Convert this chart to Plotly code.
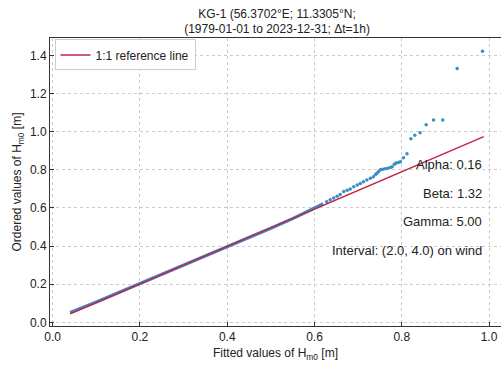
import plotly.graph_objects as go

# Dense body of the Q-Q points (fitted vs ordered Hm0)
body_x = [0.04, 0.07, 0.10, 0.15, 0.20, 0.25, 0.30, 0.35, 0.40, 0.45, 0.50, 0.55, 0.58, 0.60, 0.62]
body_y = [0.052, 0.078, 0.107, 0.155, 0.203, 0.251, 0.299, 0.347, 0.396, 0.445, 0.494, 0.544, 0.576, 0.600, 0.622]

# Upper tail points
tail_x = [0.628, 0.636, 0.644, 0.652, 0.659, 0.667, 0.675, 0.682, 0.690, 0.698, 0.705, 0.712, 0.720,
          0.728, 0.735, 0.740, 0.743, 0.747, 0.751, 0.756, 0.762, 0.768, 0.774, 0.778, 0.783,
          0.787, 0.792, 0.797, 0.804, 0.812, 0.821, 0.830, 0.842, 0.856, 0.873, 0.894, 0.927, 0.985]
tail_y = [0.633, 0.643, 0.652, 0.662, 0.671, 0.686, 0.693, 0.700, 0.712, 0.720, 0.728, 0.737, 0.747,
          0.756, 0.764, 0.775, 0.782, 0.792, 0.800, 0.803, 0.806, 0.809, 0.812, 0.816, 0.830,
          0.836, 0.838, 0.843, 0.864, 0.884, 0.963, 0.981, 0.995, 1.037, 1.061, 1.061, 1.331, 1.422]

# 1:1 reference line
ref_x = [0.04, 0.988]
ref_y = [0.045, 0.974]

x_ticks = [0.0, 0.2, 0.4, 0.6, 0.8, 1.0]
y_ticks = [0.0, 0.2, 0.4, 0.6, 0.8, 1.0, 1.2, 1.4]

labels = ["Alpha: 0.16", "Beta: 1.32", "Gamma: 5.00", "Interval: (2.0, 4.0) on wind"]
label_y = [0.826, 0.678, 0.527, 0.375]

blue = "#3a8dc6"
red = "#c2254a"
font = "Liberation Sans, Arial, sans-serif"

fig = go.Figure()
fig.add_trace(go.Scatter(x=body_x, y=body_y, mode="lines", line=dict(color=blue, width=3.2),
                         showlegend=False, hoverinfo="skip"))
fig.add_trace(go.Scatter(x=tail_x, y=tail_y, mode="markers",
                         marker=dict(color=blue, size=3.5, line=dict(width=0)),
                         showlegend=False))
fig.add_trace(go.Scatter(x=ref_x, y=ref_y, mode="lines", line=dict(color=red, width=1.5),
                         name="1:1 reference line"))

for t, yy in zip(labels, label_y):
    fig.add_annotation(x=0.988, y=yy, xref="x", yref="y", text=t, showarrow=False,
                       xanchor="right", yanchor="middle",
                       font=dict(family=font, size=13, color="#222"))

axis_common = dict(showline=True, linecolor="#333", linewidth=1, mirror=True,
                   showgrid=True, gridcolor="#cccccc", griddash="dot", gridwidth=1,
                   zeroline=False, ticks="inside", ticklen=4, tickcolor="#333",
                   tickfont=dict(family=font, size=12, color="#222"))

fig.update_xaxes(range=[-0.0062, 1.0275], tickvals=x_ticks, tickformat=".1f",
                 title=dict(text="Fitted values of H<sub>m0</sub> [m]",
                            font=dict(family=font, size=12, color="#222"), standoff=5),
                 **axis_common)
fig.update_yaxes(range=[-0.019, 1.4916], tickvals=y_ticks, tickformat=".1f",
                 title=dict(text="Ordered values of H<sub>m0</sub> [m]",
                            font=dict(family=font, size=12, color="#222"), standoff=5),
                 **axis_common)

fig.update_layout(
    width=501, height=367,
    margin=dict(l=50, r=0, t=38, b=41),
    paper_bgcolor="white", plot_bgcolor="white",
    title=dict(text="KG-1 (56.3702°E; 11.3305°N;<br>(1979-01-01 to 2023-12-31; Δt=1h)",
               x=0.553, xanchor="center", xref="container",
               y=0.952, yanchor="middle", yref="container",
               font=dict(family=font, size=12, color="#222")),
    legend=dict(x=0.01, y=0.995, xanchor="left", yanchor="top",
                bgcolor="rgba(255,255,255,0.9)", bordercolor="#cccccc", borderwidth=1,
                font=dict(family=font, size=12, color="#222")),
    showlegend=True,
)

fig.write_html("out.html", config={"displayModeBar": False},
               post_script="document.body.style.margin='0';document.body.style.overflow='hidden';")
